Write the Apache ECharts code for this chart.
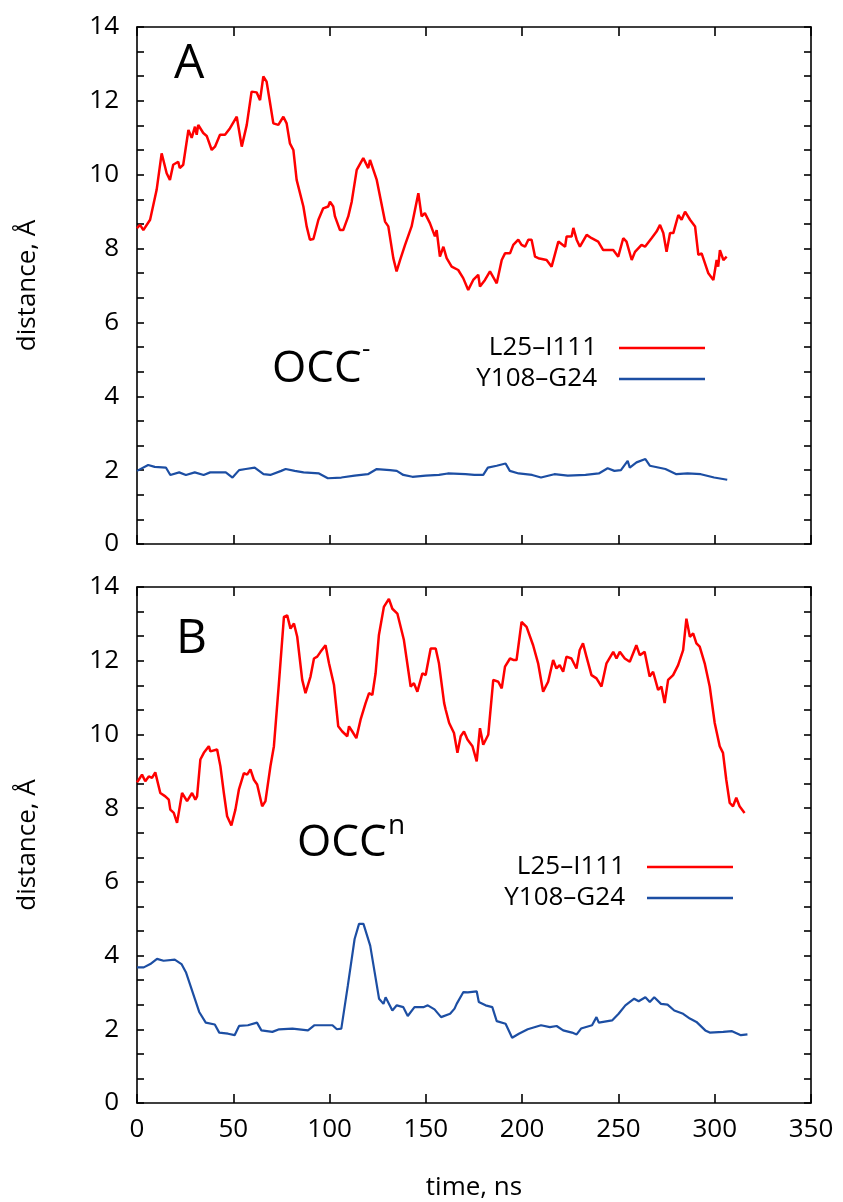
<!DOCTYPE html>
<html>
<head>
<meta charset="utf-8">
<script src="https://cdn.jsdelivr.net/npm/echarts@6/dist/echarts.min.js"></script>
<style>
html,body{margin:0;padding:0;background:#fff;}
#chart{width:843px;height:1202px;}
</style>
</head>
<body>
<div id="chart"></div>
<script>
// ---- data (time in ns, distance in Å) ----
const seriesNames = ['L25\u2013I111', 'Y108\u2013G24'];
const panelLabels = ['A', 'B'];
const stateLabels = [['OCC', '-'], ['OCC', 'n']];
const xTicks = {min: 0, max: 350, interval: 50};
const yTicks = {min: 0, max: 14, interval: 2};

const redA = [[0,8.55],[1.6,8.64],[3.3,8.5],[6.8,8.78],[10.2,9.59],[12.8,10.58],[15.4,10.04],[17.1,9.86],[18.8,10.27],[21.4,10.35],[22.2,10.18],[24,10.27],[26.7,11.21],[28.4,11.0],[30.1,11.3],[31,11.08],[31.8,11.35],[34.4,11.13],[36.2,11.05],[38.8,10.67],[40.5,10.76],[43.1,11.08],[45.7,11.08],[48.3,11.26],[51.8,11.57],[54.4,10.76],[57,11.35],[59.5,12.25],[62.1,12.23],[63.9,12.02],[65.6,12.66],[67.3,12.52],[69.1,11.94],[70.8,11.39],[73.4,11.35],[76,11.57],[77.7,11.39],[79.4,10.85],[81.2,10.67],[82.9,9.86],[86.4,9.14],[88.1,8.6],[89.8,8.24],[91.6,8.26],[94.2,8.78],[96.7,9.09],[99.3,9.14],[100.2,9.27],[101.9,9.14],[102.8,8.87],[105.4,8.5],[107.1,8.5],[109.7,8.87],[111.5,9.27],[114.1,10.13],[117.5,10.45],[120.1,10.18],[121,10.4],[124.5,9.86],[128.8,8.73],[130.5,8.6],[133.1,7.74],[134.8,7.38],[136.6,7.69],[139.2,8.1],[142.6,8.6],[143.5,8.64],[146.1,9.5],[147.8,8.87],[149.5,8.96],[152.1,8.69],[154.7,8.33],[155.6,8.5],[157.3,7.78],[159.1,8.05],[160.8,7.74],[163.4,7.51],[166.8,7.42],[169.4,7.2],[172,6.88],[174.6,7.15],[177.2,7.29],[178.1,6.97],[180.7,7.15],[183.3,7.38],[186.8,7.06],[189.4,7.69],[191.1,7.87],[193.7,7.87],[195.4,8.1],[198,8.24],[199.7,8.1],[201.5,8.05],[203.2,8.24],[204.9,8.24],[206.7,7.78],[208.4,7.74],[212.7,7.69],[215.3,7.51],[218.8,8.19],[219.6,8.24],[222.3,8.05],[223.1,8.33],[225.7,8.33],[226.6,8.56],[228.3,8.24],[230,8.05],[233.5,8.37],[236.1,8.28],[239.5,8.19],[242.1,7.96],[247.3,7.96],[249.9,7.78],[252.5,8.28],[254.2,8.19],[256.9,7.69],[258.6,7.91],[262,8.1],[263.8,8.05],[267.2,8.28],[269.8,8.46],[271.6,8.64],[273.3,8.42],[275,7.91],[276.8,8.42],[278.5,8.42],[281.1,8.91],[282.8,8.78],[284.6,9.0],[287.2,8.78],[289.8,8.6],[291.5,7.83],[293.2,7.87],[296.7,7.33],[299.3,7.15],[301,7.69],[301.8,7.51],[302.7,7.96],[304.5,7.69],[306.2,7.78]];

const blueA = [[0,1.98],[5.8,2.14],[9.2,2.09],[15,2.07],[17.3,1.87],[21.9,1.94],[25.4,1.87],[30,1.94],[34.6,1.87],[38,1.94],[46.1,1.94],[49.6,1.8],[53,2.0],[56.5,2.03],[61.1,2.07],[65.7,1.89],[69.2,1.87],[74.9,1.98],[77.2,2.03],[81.9,1.98],[86.5,1.94],[94.5,1.91],[99.1,1.78],[106.1,1.8],[113,1.85],[119.9,1.89],[124.5,2.03],[131.4,2.0],[134.9,1.98],[138.3,1.87],[143,1.82],[149.9,1.85],[156.8,1.87],[161.4,1.91],[170.6,1.89],[175.2,1.87],[179.8,1.87],[182.2,2.07],[186.8,2.12],[191.4,2.18],[193.6,1.98],[198.2,1.91],[205.2,1.87],[209.8,1.8],[216.7,1.89],[223.7,1.85],[232.9,1.87],[239.8,1.91],[244.4,2.05],[247.9,1.98],[251.3,2.0],[254.8,2.25],[255.9,2.07],[259.4,2.21],[264,2.3],[266.3,2.12],[274.4,2.03],[280.1,1.89],[285.9,1.91],[292.8,1.89],[299.7,1.8],[306.5,1.74]];

const redB = [[0,8.7],[0.9,8.77],[2.6,8.91],[4.3,8.73],[6.1,8.86],[7.8,8.82],[9.5,8.97],[12.1,8.41],[14.7,8.32],[16.5,8.23],[17.3,7.96],[19.1,7.87],[20.8,7.6],[23.4,8.41],[26,8.19],[28.6,8.41],[30.3,8.23],[31.2,8.32],[32.9,9.32],[34.7,9.5],[37.3,9.68],[38.1,9.54],[41.6,9.59],[43.3,9.14],[45.1,8.41],[46.8,7.78],[49,7.53],[51.1,7.96],[52.9,8.5],[55.5,8.95],[57.2,8.91],[58.9,9.05],[60.7,8.77],[62.4,8.64],[65,8.05],[66.7,8.19],[69.3,9.14],[71.1,9.68],[73.7,11.39],[76.3,13.19],[78,13.23],[79.7,12.87],[81.5,13.01],[83.2,12.65],[85.8,11.48],[87.5,11.12],[90.1,11.57],[91.9,12.06],[93.6,12.11],[95.3,12.24],[97.9,12.42],[99.7,11.93],[102.3,11.34],[104.5,10.22],[106.6,10.08],[109.2,9.95],[110.1,10.22],[111.8,10.08],[113.9,9.9],[116.1,10.4],[118.7,10.85],[120.5,11.12],[122.2,11.07],[123.9,11.66],[125.6,12.69],[128.2,13.46],[130.8,13.68],[132.6,13.41],[135.2,13.28],[138.6,12.56],[142.1,11.3],[143.8,11.39],[145.6,11.16],[148.2,11.66],[149.9,11.61],[152.5,12.33],[155.1,12.33],[156.8,11.93],[159.5,10.85],[160.3,10.67],[162.1,10.31],[164.6,10.04],[166.4,9.5],[168.1,9.95],[169.8,10.08],[171.6,9.86],[174.2,9.68],[176.4,9.27],[178.1,10.17],[179.8,9.72],[182.4,9.99],[185,11.48],[187.6,11.43],[189.4,11.25],[191.1,11.84],[193.7,12.06],[195.4,12.02],[197.1,12.02],[199.7,13.05],[202.3,12.92],[205.7,12.42],[208.3,11.93],[210.9,11.16],[213.5,11.43],[216.1,12.02],[217.8,11.79],[219.5,11.88],[221.3,11.7],[223,12.11],[225.6,12.06],[228.2,11.79],[229.9,12.29],[231.6,12.47],[233.4,12.11],[236,11.61],[238.6,11.52],[241.2,11.3],[243.8,11.93],[247.3,12.24],[249,12.06],[250.7,12.24],[253.3,12.06],[255.9,11.97],[259.3,12.42],[261.1,12.15],[263.6,12.24],[266.2,11.57],[268,11.7],[270.6,11.21],[272.3,11.3],[274,10.85],[275.8,11.48],[278.4,11.61],[281,11.88],[283.6,12.29],[285.3,13.14],[287.1,12.65],[288.8,12.74],[290.5,12.47],[292.2,12.38],[294.8,11.93],[297.4,11.3],[300,10.31],[302.6,9.68],[304.3,9.5],[306,8.77],[307.8,8.14],[309.5,8.05],[311.2,8.28],[312.9,8.05],[315.5,7.87]];

const blueB = [[0,3.68],[3.5,3.68],[6.9,3.77],[10.4,3.91],[13.8,3.86],[19.6,3.89],[23.1,3.77],[25.4,3.55],[27.7,3.19],[30,2.83],[32.3,2.47],[35.7,2.18],[40.4,2.13],[42.7,1.91],[47.3,1.88],[50.7,1.84],[53,2.09],[57.6,2.11],[62.3,2.18],[64.6,1.97],[70.3,1.93],[73.8,2.0],[80.7,2.02],[88.8,1.97],[92.2,2.11],[101.5,2.11],[103.8,2.0],[106.1,2.02],[109.5,3.19],[113,4.45],[115.3,4.86],[117.6,4.86],[121.1,4.27],[123.4,3.55],[125.7,2.83],[128,2.69],[129.1,2.87],[132.6,2.51],[134.9,2.65],[138.3,2.6],[140.6,2.36],[144.1,2.6],[148.7,2.6],[151,2.65],[154.5,2.54],[157.9,2.33],[162.6,2.42],[164.9,2.56],[166,2.69],[169.5,3.01],[171.8,3.0],[176.4,3.03],[177.5,2.74],[181,2.65],[184.5,2.6],[186.8,2.22],[191.4,2.15],[194.8,1.77],[198.3,1.88],[202.9,2.0],[209.8,2.11],[214.4,2.06],[217.9,2.09],[221.3,1.97],[225.9,1.91],[228.3,1.86],[230.6,2.02],[236.3,2.11],[238.6,2.33],[239.8,2.18],[246.7,2.24],[250.1,2.42],[253.6,2.65],[258.2,2.83],[260.5,2.76],[264,2.87],[266.3,2.74],[268.6,2.87],[272.1,2.69],[275.5,2.67],[279,2.51],[283.6,2.42],[287.1,2.29],[290.5,2.2],[295.1,1.97],[297.4,1.91],[304.4,1.93],[309,1.95],[313.6,1.84],[317,1.86]];

// ---- chart ----
const FONT = '"Open Sans", "Noto Sans", sans-serif';
const RED = '#ff0000';
const BLUE = '#1c4ea3';
const chart = echarts.init(document.getElementById('chart'), null, {renderer: 'canvas'});

const grids = [
  {left: 137, right: 32, top: 27, height: 517},
  {left: 137, right: 32, top: 587, height: 520}
];
const lineStyle = {color: '#000', width: 1.6};

function xAx(grid, pos, labels) {
  return {
    type: 'value', gridIndex: grid, position: pos,
    min: xTicks.min, max: xTicks.max, interval: xTicks.interval,
    axisLine: {show: true, onZero: false, lineStyle},
    axisTick: {show: true, inside: true, length: 9, lineStyle},
    axisLabel: {show: labels, fontFamily: FONT, fontSize: 26, color: '#000', margin: 14},
    splitLine: {show: false},
    name: labels ? 'time, ns' : '', nameLocation: 'middle', nameGap: 72,
    nameTextStyle: {fontFamily: FONT, fontSize: 26, color: '#000'}
  };
}
function yAx(grid, pos, labels) {
  return {
    type: 'value', gridIndex: grid, position: pos,
    min: yTicks.min, max: yTicks.max, interval: yTicks.interval,
    axisLine: {show: true, onZero: false, lineStyle},
    axisTick: {show: true, inside: true, length: 7, lineStyle},
    minorTick: {show: true, splitNumber: 3, length: 7, lineStyle},
    axisLabel: {show: labels, fontFamily: FONT, fontSize: 26, color: '#000', margin: 18},
    splitLine: {show: false},
    name: labels ? 'distance, \u00c5' : '', nameLocation: 'middle', nameGap: 96,
    nameTextStyle: {fontFamily: FONT, fontSize: 26, color: '#000'}
  };
}

function legend(right, top) {
  return {
    orient: 'vertical', align: 'right', right: right, top: top,
    data: seriesNames, icon: 'rect', itemWidth: 86, itemHeight: 2.6, itemGap: 5,
    selectedMode: false,
    textStyle: {fontFamily: FONT, fontSize: 26, color: '#000', lineHeight: 26, padding: [0, 17, 0, 0]}
  };
}

function lineSeries(name, data, color, width, xi, yi) {
  return {
    type: 'line', name: name, data: data, xAxisIndex: xi, yAxisIndex: yi,
    showSymbol: false, symbol: 'none', smooth: false,
    lineStyle: {color: color, width: width}, itemStyle: {color: color},
    animation: false, silent: true
  };
}

function txt(text, left, cy, size) {
  return {type: 'text', left: left, top: cy - size * 0.62,
    style: {text: text, fontFamily: FONT, fontSize: size, fill: '#000'}};
}

const option = {
  backgroundColor: '#fff',
  animation: false,
  grid: grids,
  xAxis: [xAx(0, 'bottom', false), xAx(0, 'top', false), xAx(1, 'bottom', true), xAx(1, 'top', false)],
  yAxis: [yAx(0, 'left', true), yAx(0, 'right', false), yAx(1, 'left', true), yAx(1, 'right', false)],
  legend: [legend(133, 330), legend(105, 849)],
  series: [
    lineSeries(seriesNames[0], redA, RED, 2.5, 0, 0),
    lineSeries(seriesNames[1], blueA, BLUE, 2.2, 0, 0),
    lineSeries(seriesNames[0], redB, RED, 2.5, 2, 2),
    lineSeries(seriesNames[1], blueB, BLUE, 2.2, 2, 2)
  ],
  graphic: [
    txt(panelLabels[0], 174, 70, 48),
    txt(panelLabels[1], 176, 645, 48),
    txt(stateLabels[0][0], 272, 375, 44),
    txt(stateLabels[0][1], 362, 353, 26),
    txt(stateLabels[1][0], 297, 849, 44),
    txt(stateLabels[1][1], 388, 829, 28)
  ]
};
chart.setOption(option);
</script>
</body>
</html>
